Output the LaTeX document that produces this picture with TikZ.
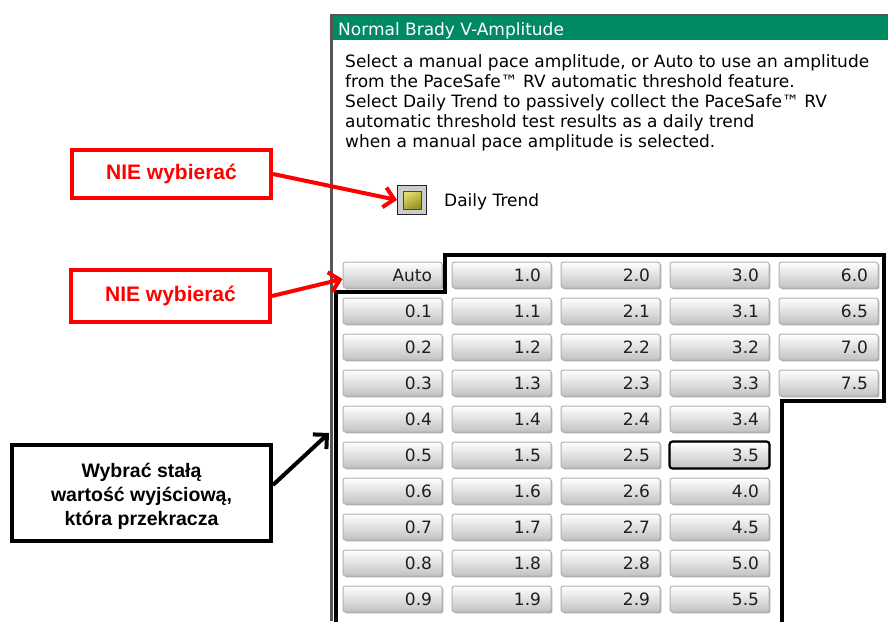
\documentclass[tikz,border=0pt]{standalone}
\usepackage{fontspec}
\setmainfont{Liberation Sans}
\newfontfamily\uifont{DejaVu Sans}
\usetikzlibrary{arrows.meta}
\definecolor{titlegreen}{RGB}{0,138,100}
\definecolor{calloutred}{RGB}{255,0,0}
\definecolor{panelgray}{RGB}{85,85,85}
\definecolor{btntext}{RGB}{30,30,30}
\definecolor{olivelight}{RGB}{226,222,110}
\definecolor{olivedark}{RGB}{150,146,35}

\begin{document}
\begin{tikzpicture}[x=1pt,y=-1pt,
  uitext/.style={font=\uifont\fontsize{17}{20}\selectfont, inner sep=0pt},
  btn/.style={rectangle, rounded corners=2.5pt, minimum width=99pt, minimum height=26pt,
    inner xsep=10pt, inner ysep=0pt, text width=79pt, align=flush right,
    text height=12.4pt, text depth=0pt, font=\uifont\fontsize{17}{20}\selectfont,
    text=btntext, draw=gray!60, line width=1pt, top color=white, bottom color=gray!48,
    preaction={fill=gray!65, transform canvas={shift={(1.4pt,-1.4pt)}}}},
  redbox/.style={draw=calloutred, line width=4pt, minimum width=199pt, minimum height=48pt,
    text=calloutred, font=\bfseries\fontsize{21}{24}\selectfont},
  blkbox/.style={draw=black, line width=4pt, minimum width=259pt, minimum height=96pt,
    align=center, font=\bfseries\fontsize{19.5}{24}\selectfont},
  redarrow/.style={draw=calloutred, line width=4pt, -{Straight Barb[length=10pt,width=20pt]}},
  blkarrow/.style={draw=black, line width=4pt, -{Straight Barb[length=10pt,width=20pt]}},
  outline/.style={draw=black, line width=4pt, miter limit=10}
]
\useasboundingbox (0,0) rectangle (888,621);
\fill[white] (0,0) rectangle (888,621);

% settings panel: frame and title bar
\fill[titlegreen] (333,16) rectangle (888,40);
\draw[panelgray, line width=2.5pt] (331.5,621) -- (331.5,15) -- (888,15);
\node[uitext, text=white, anchor=base west] (title) at (338,35) {Normal Brady V-Amplitude};

% description text
\node[uitext, anchor=base west] (desc1) at (345,67) {Select a manual pace amplitude, or Auto to use an amplitude};
\node[uitext, anchor=base west] (desc2) at (345,87) {from the PaceSafe\texttrademark\ RV automatic threshold feature.};
\node[uitext, anchor=base west] (desc3) at (345,107) {Select Daily Trend to passively collect the PaceSafe\texttrademark\ RV};
\node[uitext, anchor=base west] (desc4) at (345,127) {automatic threshold test results as a daily trend};
\node[uitext, anchor=base west] (desc5) at (345,147) {when a manual pace amplitude is selected.};

% Daily Trend check box
\node[draw=gray!30!black, line width=1pt, fill=gray!40, minimum size=29pt, inner sep=0pt] (chk) at (412,200) {};
\node[draw=gray!55!black, line width=0.8pt, minimum size=18pt, inner sep=0pt,
  top color=olivelight, bottom color=olivedark, shading angle=30] (chkin) at (chk.center) {};
\node[uitext, anchor=base west] (trend) at (444,206) {Daily Trend};

% amplitude buttons
\foreach \col/\vals in {0/{Auto,0.1,0.2,0.3,0.4,0.5,0.6,0.7,0.8,0.9},
                        1/{1.0,1.1,1.2,1.3,1.4,1.5,1.6,1.7,1.8,1.9},
                        2/{2.0,2.1,2.2,2.3,2.4,2.5,2.6,2.7,2.8,2.9},
                        3/{3.0,3.1,3.2,3.3,3.4,3.5,4.0,4.5,5.0,5.5},
                        4/{6.0,6.5,7.0,7.5}}{
  \foreach \v [count=\r from 0] in \vals {
    \node[btn] (b-\col-\r) at ({392.5+109*\col},{275+36*\r}) {\v};
  }
}
% currently selected value
\draw[black, line width=2.2pt, rounded corners=3pt] (b-3-5.north west) rectangle (b-3-5.south east);

% outline of the permitted values
\draw[outline] (336,625) -- (336,292) -- (445,292) -- (445,255) -- (884,255)
  -- (884,401) -- (782,401) -- (782,625);

% callouts
\node[redbox] (nie1) at (171.5,174) {NIE wybierać};
\node[redbox, minimum height=52pt] (nie2) at (170.5,296) {NIE wybierać};
\node[blkbox] (pick) at (141.5,493) {\rule{0pt}{22pt}Wybrać stałą\\wartość wyjściową,\\która przekracza};

\coordinate (tip) at (329,433);
\draw[redarrow] (nie1.east) -- (chk.west);
\draw[redarrow] (nie2.east) -- ([yshift=-4pt]b-0-0.west);
\draw[blkarrow] ([yshift=8pt]pick.east) -- (tip);
\end{tikzpicture}
\end{document}
